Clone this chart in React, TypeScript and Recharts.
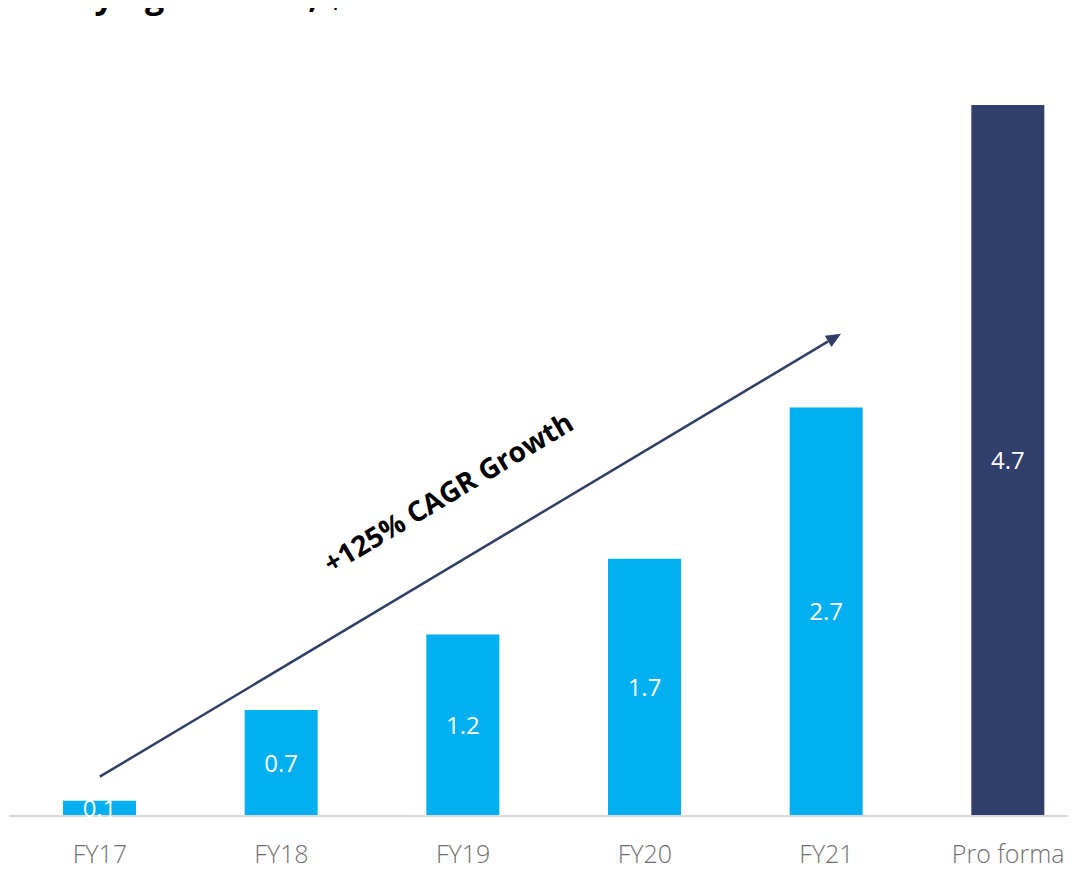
import React from 'react'
import { BarChart, Bar, XAxis, YAxis, LabelList, ReferenceLine, Cell } from 'recharts'

const categories = ['FY17', 'FY18', 'FY19', 'FY20', 'FY21', 'Pro forma']
const revenue = [0.1, 0.7, 1.2, 1.7, 2.7, 4.7]
const barColors = ['#00AFEF', '#00AFEF', '#00AFEF', '#00AFEF', '#00AFEF', '#303F6B']

// trend arrow endpoints (category, value)
const trendStart = { x: 'FY17', y: 0.26 }
const trendEnd = { x: 'FY21', y: 3.13 }
const trendLabel = '+125% CAGR Growth'

const data = categories.map((name, i) => ({ name, value: revenue[i] }))

const ARROW = '#2F3F66'

function TrendArrow(props: any) {
  const { x1, y1 } = props
  // run the arrow slightly past the FY21 bar
  const dx = (props.x2 - x1) * 1.02
  const dy = (props.y2 - y1) * 1.02
  const x2 = x1 + dx
  const y2 = y1 + dy
  const len = Math.sqrt(dx * dx + dy * dy)
  const ux = dx / len
  const uy = dy / len
  const angle = (Math.atan2(dy, dx) * 180) / Math.PI
  // arrowhead
  const head = 15
  const half = 6.5
  const bx = x2 - ux * head
  const by = y2 - uy * head
  const pts = `${x2},${y2} ${bx - uy * half},${by + ux * half} ${bx + uy * half},${by - ux * half}`
  // label sits above the line, a bit past the middle
  const along = len * 0.515
  const off = 66
  const cx = x1 + ux * along + uy * off
  const cy = y1 + uy * along - ux * off
  return (
    <g>
      <line x1={x1} y1={y1} x2={bx} y2={by} stroke={ARROW} strokeWidth={2.5} />
      <polygon points={pts} fill={ARROW} />
      <text
        x={cx}
        y={cy}
        textAnchor="middle"
        dominantBaseline="central"
        fontFamily="'Open Sans', sans-serif"
        fontWeight={700}
        fontSize={28}
        fill="#000"
        transform={`rotate(${angle}, ${cx}, ${cy})`}
      >
        {trendLabel}
      </text>
    </g>
  )
}

export default function App() {
  return (
    <div style={{ position: 'relative', width: 1068, height: 862, overflow: 'hidden', fontFamily: "'Open Sans', sans-serif" }}>
      <div
        style={{
          position: 'absolute',
          left: -26,
          top: -36,
          fontSize: 34,
          lineHeight: '46px',
          fontWeight: 700,
          letterSpacing: -0.5,
          color: '#000',
          whiteSpace: 'nowrap',
          fontFamily: "'Open Sans', sans-serif",
        }}
      >
        Underlying revenue, $m
      </div>
      <BarChart
        width={1091}
        height={862}
        data={data}
        margin={{ top: 51.5, right: 0, bottom: 0, left: 1 }}
        barCategoryGap={0}
      >
        <XAxis
          dataKey="name"
          axisLine={{ stroke: '#D9D9D9', strokeWidth: 2 }}
          tickLine={false}
          tickSize={0}
          tickMargin={29}
          height={54}
          interval={0}
          tick={{ fill: '#707070', fontSize: 25, fontWeight: 300, fontFamily: "'Open Sans', sans-serif" }}
        />
        <YAxis hide domain={[0, 5]} />
        <Bar dataKey="value" barSize={73} isAnimationActive={false}>
          {data.map((d, i) => (
            <Cell key={d.name} fill={barColors[i]} />
          ))}
          <LabelList
            dataKey="value"
            position="center"
            fill="#FFFFFF"
            fontSize={24}
            fontWeight={400}
            fontFamily="'Open Sans', sans-serif"
            formatter={(v: any) => Number(v).toFixed(1)}
          />
        </Bar>
        <ReferenceLine segment={[trendStart, trendEnd]} shape={TrendArrow} ifOverflow="visible" />
      </BarChart>
    </div>
  )
}
